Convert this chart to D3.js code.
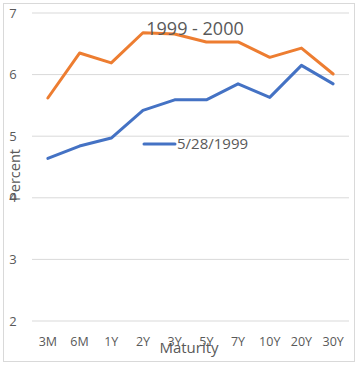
<!DOCTYPE html>
<html><head><meta charset="utf-8">
<script src="https://cdn.jsdelivr.net/npm/d3@7"></script>
<style>body{margin:0;background:#fff}svg{display:block}text{font-family:"Open Sans",sans-serif}</style>
</head><body>
<script>
const categories = ["3M","6M","1Y","2Y","3Y","5Y","7Y","10Y","20Y","30Y"];
const series2000 = [5.62,6.35,6.19,6.68,6.66,6.53,6.53,6.28,6.43,6.01];
const series1999 = [4.64,4.84,4.97,5.42,5.59,5.59,5.85,5.63,6.15,5.85];
const yTicks = [2,3,4,5,6,7];
const legendLabel = "5/28/1999";
const titleText = "1999 - 2000";

const W=359,H=366;
const svg=d3.select("body").append("svg").attr("width",W).attr("height",H);
svg.append("rect").attr("x",3.5).attr("y",3.5).attr("width",351).attr("height",358).attr("fill","#fff").attr("stroke","#d9d9d9");
const x=d3.scaleBand().domain(categories).range([32,349]);
const y=d3.scaleLinear().domain([2,7]).range([321,13]);
const grey="#595959";
svg.append("g").selectAll("line").data(yTicks).join("line")
 .attr("x1",32).attr("x2",349).attr("y1",d=>y(d)).attr("y2",d=>y(d)).attr("stroke","#d9d9d9").attr("stroke-width",1);
svg.append("g").selectAll("text").data(yTicks).join("text")
 .attr("x",13).attr("y",d=>y(d)+4.5).attr("text-anchor","middle").attr("font-size",13).attr("fill",grey).text(d=>d);
svg.append("g").selectAll("text").data(categories).join("text")
 .attr("x",d=>x(d)+x.bandwidth()/2).attr("y",346).attr("text-anchor","middle").attr("font-size",12.5).attr("fill",grey).text(d=>d);
const line=d3.line().x((d,i)=>x(categories[i])+x.bandwidth()/2).y(d=>y(d));
svg.append("path").datum(series2000).attr("d",line).attr("fill","none").attr("stroke","#ED7D31").attr("stroke-width",3).attr("stroke-linejoin","round").attr("stroke-linecap","round");
svg.append("path").datum(series1999).attr("d",line).attr("fill","none").attr("stroke","#4472C4").attr("stroke-width",3).attr("stroke-linejoin","round").attr("stroke-linecap","round");
svg.append("text").attr("x",195).attr("y",35).attr("text-anchor","middle").attr("font-size",18).attr("fill",grey).text(titleText);
svg.append("line").attr("x1",144).attr("x2",175).attr("y1",144).attr("y2",144).attr("stroke","#4472C4").attr("stroke-width",3).attr("stroke-linecap","round");
svg.append("text").attr("x",177).attr("y",149).attr("font-size",15).attr("fill",grey).text(legendLabel);
svg.append("text").attr("transform","translate(20,175) rotate(-90)").attr("text-anchor","middle").attr("font-size",14.5).attr("fill",grey).text("Percent");
svg.append("text").attr("x",189).attr("y",353).attr("text-anchor","middle").attr("font-size",15).attr("fill",grey).text("Maturity");
</script>
</body></html>
